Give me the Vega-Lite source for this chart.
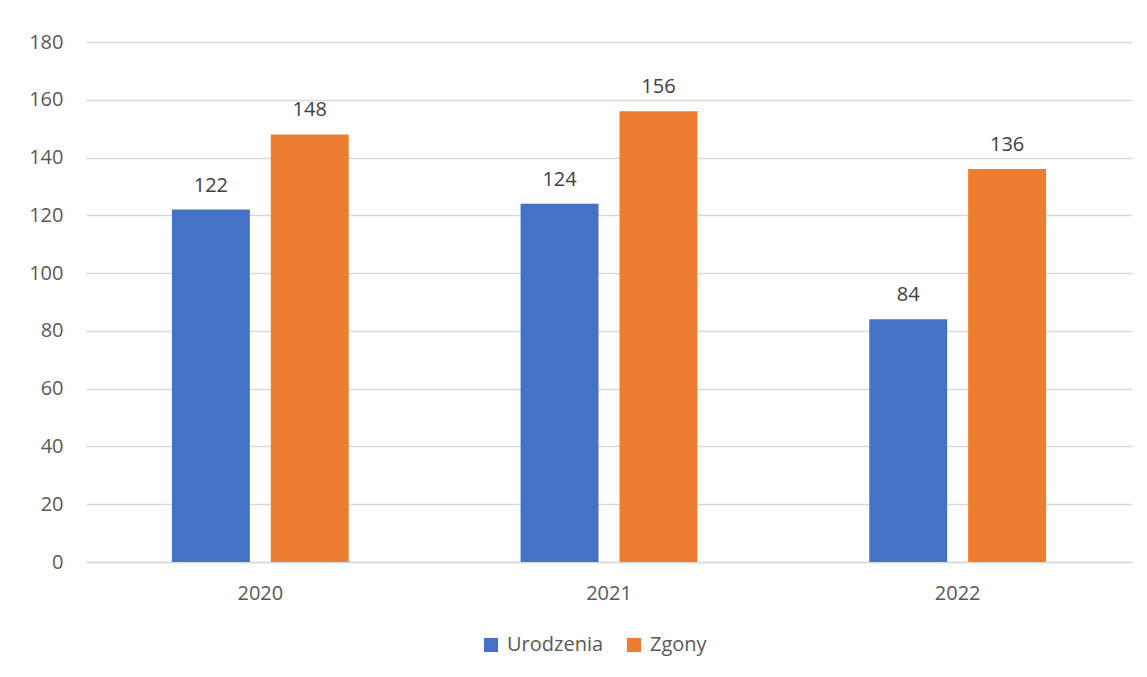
{
  "$schema": "https://vega.github.io/schema/vega-lite/v6.json",
  "width": 1046,
  "height": 520,
  "autosize": {"type": "none"},
  "padding": {"left": 86, "top": 42, "right": 15, "bottom": 115},
  "background": "white",
  "data": {
    "values": [
      {"rok": "2020", "seria": "Urodzenia", "liczba": 122},
      {"rok": "2020", "seria": "Zgony", "liczba": 148},
      {"rok": "2021", "seria": "Urodzenia", "liczba": 124},
      {"rok": "2021", "seria": "Zgony", "liczba": 156},
      {"rok": "2022", "seria": "Urodzenia", "liczba": 84},
      {"rok": "2022", "seria": "Zgony", "liczba": 136}
    ]
  },
  "encoding": {
    "x": {
      "field": "rok",
      "type": "nominal",
      "scale": {"paddingInner": 0, "paddingOuter": 0},
      "axis": {
        "title": null,
        "labelAngle": 0,
        "ticks": false,
        "domainColor": "#d9d9d9",
        "domainWidth": 1.5,
        "labelPadding": 21,
        "labelFontSize": 20,
        "labelColor": "#595959",
        "labelFont": "Open Sans"
      }
    },
    "xOffset": {
      "field": "seria",
      "type": "nominal",
      "scale": {"paddingInner": 0.212, "paddingOuter": 0.869}
    },
    "y": {
      "field": "liczba",
      "type": "quantitative",
      "scale": {"domain": [0, 180]},
      "axis": {
        "title": null,
        "values": [0, 20, 40, 60, 80, 100, 120, 140, 160, 180],
        "ticks": false,
        "domain": false,
        "gridColor": "#d9d9d9",
        "gridWidth": 1.5,
        "labelPadding": 23,
        "labelFontSize": 20,
        "labelColor": "#595959",
        "labelFont": "Open Sans"
      }
    }
  },
  "layer": [
    {
      "mark": {"type": "bar"},
      "encoding": {
        "color": {
          "field": "seria",
          "type": "nominal",
          "scale": {"domain": ["Urodzenia", "Zgony"], "range": ["#4472C4", "#ED7D31"]},
          "legend": {
            "title": null,
            "orient": "none",
            "direction": "horizontal",
            "legendX": 395,
            "legendY": 593,
            "symbolType": "square",
            "symbolSize": 200,
            "symbolStrokeWidth": 0,
            "symbolOpacity": 1,
            "labelFontSize": 20,
            "labelColor": "#595959",
            "labelFont": "Open Sans",
            "columnPadding": 20,
            "labelOffset": 6
          }
        }
      }
    },
    {
      "mark": {
        "type": "text",
        "baseline": "bottom",
        "dy": -14,
        "fontSize": 20,
        "font": "Open Sans",
        "color": "#404040"
      },
      "encoding": {
        "text": {"field": "liczba", "type": "quantitative"}
      }
    }
  ],
  "config": {
    "view": {"stroke": null}
  }
}
